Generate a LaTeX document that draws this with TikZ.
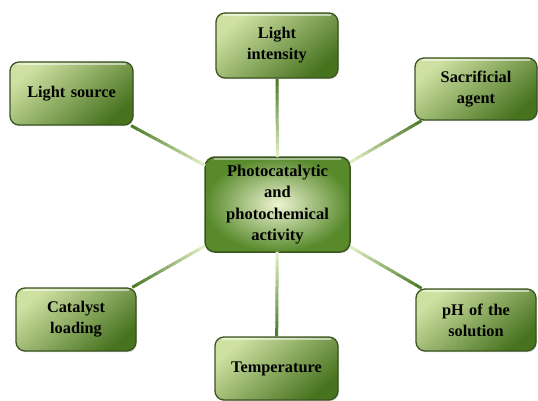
\documentclass[tikz,border=0pt]{standalone}
\usepackage{fontspec}
\setmainfont{Liberation Serif}
\usetikzlibrary{calc,shadows}
\definecolor{boxlight}{HTML}{CFE1A2}
\definecolor{boxdark}{HTML}{47731F}
\definecolor{boxedge}{HTML}{3A5420}
\definecolor{cenlight}{HTML}{EEF4D2}
\definecolor{cendark}{HTML}{588A2C}
\definecolor{lndark}{HTML}{4E7D2A}
\definecolor{lnlight}{HTML}{DDEBC0}
\tikzset{
  outerbox/.style={rounded corners=9pt, draw=boxedge, line width=1.3pt,
    top color=boxlight, bottom color=boxdark, shading angle=40,
    drop shadow={opacity=0.3, shadow xshift=0.8pt, shadow yshift=-1.2pt},
    text width=112pt, align=center, inner sep=0pt,
    font=\bfseries\fontsize{16.3}{21}\selectfont},
  centerbox/.style={rounded corners=10pt, draw=boxedge, line width=1.5pt,
    inner color=cenlight, outer color=cendark,
    drop shadow={opacity=0.3, shadow xshift=0.8pt, shadow yshift=-1.2pt},
    text width=138pt, align=center, inner sep=0pt,
    minimum width=145pt, minimum height=95pt,
    font=\bfseries\fontsize{16.5}{21.5}\selectfont},
  segline/.style={line width=3pt, line cap=butt},
  shine/.style={white, opacity=0.55, line width=1.2pt, line cap=round}
}
\begin{document}
\begin{tikzpicture}[x=1pt,y=-1pt]
\useasboundingbox (0,0) rectangle (538,401);
\node[centerbox] (c) at (277.5,204.5) {Photocatalytic\\and\\photochemical\\activity};
\node[outerbox, minimum width=123pt, minimum height=63pt] (ls) at (71.5,93.5) {Light source};
\node[outerbox, minimum width=122pt, minimum height=65pt] (li) at (277,45.5) {Light\\intensity};
\node[outerbox, minimum width=122pt, minimum height=62pt] (sa) at (476,89) {Sacrificial\\agent};
\node[outerbox, minimum width=120pt, minimum height=63pt] (cl) at (76,319.5) {Catalyst\\loading};
\node[outerbox, minimum width=123pt, minimum height=63pt] (te) at (276.5,368.5) {Temperature};
\node[outerbox, minimum width=120pt, minimum height=62pt] (ph) at (476,320) {pH of the\\solution};
\foreach \n in {ls,li,sa,cl,te,ph}{
  \draw[shine] ([xshift=8pt,yshift=-2.6pt]\n.north west) -- ([xshift=-8pt,yshift=-2.6pt]\n.north east);
  \path (\n) -- (c) coordinate[pos=0] (\n-s) coordinate[pos=1] (\n-e);
  \foreach \i in {0,...,11}{
    \pgfmathsetmacro{\a}{\i/12}
    \pgfmathsetmacro{\b}{(\i+1.15)/12}
    \pgfmathsetmacro{\m}{100-\i*100/11}
    \draw[segline, color=lndark!\m!lnlight] ($(\n-s)!\a!(\n-e)$) -- ($(\n-s)!\b!(\n-e)$);
  }
}
\draw[shine, opacity=0.45] ([xshift=10pt,yshift=-2.8pt]c.north west) -- ([xshift=-10pt,yshift=-2.8pt]c.north east);
\end{tikzpicture}
\end{document}
